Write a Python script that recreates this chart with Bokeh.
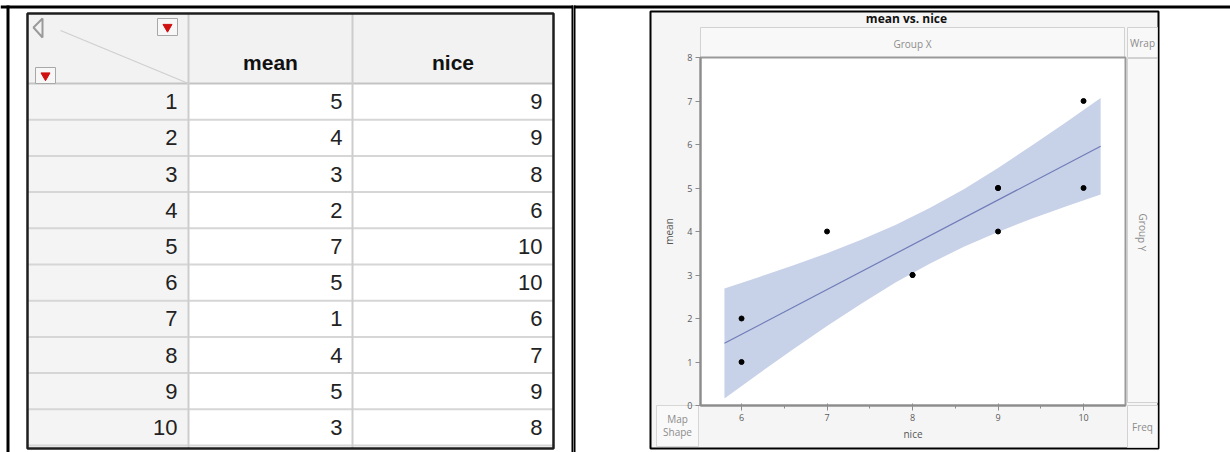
from bokeh.plotting import figure
from bokeh.models import Range1d, LinearAxis, SingleIntervalTicker
from bokeh.layouts import row
from bokeh.core.properties import value
from bokeh.embed import file_html
from bokeh.resources import INLINE

# ---------------- data ----------------
row_ids = [1, 2, 3, 4, 5, 6, 7, 8, 9, 10]
mean = [5, 4, 3, 2, 7, 5, 1, 4, 5, 3]
nice = [9, 9, 8, 6, 10, 10, 6, 7, 9, 8]
col_headers = ["mean", "nice"]

# fit line and confidence band
fit_x = [5.8, 10.2]
fit_y = [1.43, 5.96]
band_x = [5.8, 6.2, 6.6, 7.0, 7.4, 7.8, 8.2, 8.6, 9.0, 9.4, 9.8, 10.2]
band_lo = [0.16, 0.73, 1.29, 1.83, 2.34, 2.83, 3.26, 3.65, 3.99, 4.30, 4.58, 4.85]
band_hi = [2.69, 2.95, 3.22, 3.50, 3.81, 4.15, 4.54, 4.97, 5.46, 5.98, 6.52, 7.07]

chart_title = "mean vs. nice"
x_label = "nice"
y_label = "mean"
drop_zones = ["Group X", "Wrap", "Group Y", "Freq", "Map", "Shape"]

H = 452
TABLE_FONT = value("Liberation Sans")
UI_FONT = value("Open Sans")

# ---------------- left: data table ----------------
W1 = 573
left = figure(width=W1, height=H, x_range=Range1d(0, W1), y_range=Range1d(H, 0),
              output_backend="svg", toolbar_location=None, min_border=0,
              x_axis_location=None, y_axis_location=None, title=None)
for g in left.grid:
    g.visible = False
left.outline_line_color = None
left.border_fill_color = "white"
left.background_fill_color = "white"

TL, TR, TT, TB = 27, 553, 13, 448
HB = 83
C1, C2 = 188, 352
RH = 36.2

left.quad(left=TL, right=TR, top=TT, bottom=TB, fill_color="white", line_color=None)
left.quad(left=TL, right=TR, top=TT, bottom=HB, fill_color="#f2f2f2", line_color=None)
left.quad(left=TL, right=C1, top=HB, bottom=TB, fill_color="#f4f4f4", line_color=None)

n = len(row_ids)
line_ys = [HB + RH * (k + 1) for k in range(n)]
left.segment(x0=[TL] * n, x1=[TR] * n, y0=line_ys, y1=line_ys, line_color="#d6d6d6", line_width=2)
left.segment(x0=[TL], x1=[TR], y0=[HB], y1=[HB], line_color="#c4c4c4", line_width=2)
left.segment(x0=[C1, C2], x1=[C1, C2], y0=[TT, TT], y1=[TB, TB], line_color="#cdcdcd", line_width=2)
# corner diagonal and icons
left.segment(x0=[60], y0=[30], x1=[C1], y1=[HB], line_color="#cfcfcf", line_width=1.2)
left.patch(x=[42, 33, 42, 42], y=[18, 27, 37, 18], fill_color=None, line_color="#9a9a9a", line_width=2)
left.quad(left=[157, 35], right=[177, 55], top=[18, 67], bottom=[35, 83],
          fill_color="#f7f7f7", line_color="#a8a8a8", line_width=1)
left.scatter(x=[167, 45], y=[26.5, 75], marker="inverted_triangle", size=9,
             fill_color="#d01010", line_color="#d01010")
# outer border of table
left.quad(left=TL, right=TR, top=TT, bottom=TB, fill_color=None, line_color="#1e1e1e", line_width=2.5)

# headers and cells
left.text(x=[(C1 + C2) / 2, (C2 + TR) / 2], y=[62, 62], text=col_headers,
          text_font=TABLE_FONT, text_font_size="21px", text_font_style="bold",
          text_align="center", text_baseline="middle", text_color="#111111")
row_cy = [HB + RH * (i + 0.5) for i in range(n)]
left.text(x=[177] * n, y=row_cy, text=[str(v) for v in row_ids], text_font=TABLE_FONT,
          text_font_size="22px", text_align="right", text_baseline="middle", text_color="#222222")
left.text(x=[342] * n, y=row_cy, text=[str(v) for v in mean], text_font=TABLE_FONT,
          text_font_size="22px", text_align="right", text_baseline="middle", text_color="#222222")
left.text(x=[542] * n, y=row_cy, text=[str(v) for v in nice], text_font=TABLE_FONT,
          text_font_size="22px", text_align="right", text_baseline="middle", text_color="#222222")

# document frame lines
left.quad(left=[0, 6, 571], right=[W1, 9, W1], top=[5, 5, 5], bottom=[8, H, H],
          fill_color="black", line_color=None)

# ---------------- right: graph builder ----------------
OX = 573
W2 = 1230 - OX
PX, PY = 85.5, 43.5          # pixels per data unit
AX0, AY0 = 700, 405          # pixel location of the axes corner
XMIN, XMAX, YMIN, YMAX = 5.52, 10.49, 0, 8

def X(px):
    return XMIN + (px - AX0) / PX

def Y(py):
    return YMIN + (AY0 - py) / PY

p = figure(width=W2, height=H, x_range=Range1d(X(OX), X(OX + W2)), y_range=Range1d(Y(H), Y(0)),
           output_backend="svg", toolbar_location=None, title=None, min_border=0,
           x_axis_location=None, y_axis_location=None)
for g in p.grid:
    g.visible = False
p.outline_line_color = None
p.border_fill_color = "white"
p.background_fill_color = "white"

for fig in (left, p):
    if "frame_align" in fig.properties():
        fig.frame_align = False

def qbox(l, r, t, b, fill, line, lw=1):
    p.quad(left=X(l), right=X(r), top=Y(t), bottom=Y(b), fill_color=fill,
           line_color=line, line_width=lw)

# document lines (continuation)
qbox(OX - 2, OX + 2, 5, H, "black", None)
qbox(OX, OX + W2, 5, 8, "black", None)
# JMP panel
qbox(650, 1158, 11, 448, "#f5f5f5", "black", 2)
qbox(700, 1124, 27, 57, "#f8f8f8", "#d2d2d2")
qbox(1127, 1157, 27, 57, "#f8f8f8", "#d2d2d2")
qbox(1127, 1157, 58, 402, "#f8f8f8", "#d2d2d2")
qbox(1127, 1157, 405, 447, "#f8f8f8", "#d2d2d2")
qbox(656, 698, 405, 446, "#f9f9f9", "#d6d6d6")
qbox(700, 1125, 57, 405, "white", "#9a9a9a", 2)

def lab(px, py, text, size="10px", color="#8c8c8c", bold=False, angle=0.0):
    p.text(x=[X(px)], y=[Y(py)], text=[text], text_font=UI_FONT, text_font_size=size,
           text_color=color, text_align="center", text_baseline="middle",
           text_font_style="bold" if bold else "normal", angle=angle)

lab(906, 18, chart_title, size="12px", color="#111111", bold=True)
lab(912, 43, drop_zones[0])
lab(1142, 42, drop_zones[1])
lab(1142, 232, drop_zones[2], angle=-1.5708)
lab(1142, 426, drop_zones[3])
lab(677, 418, drop_zones[4])
lab(677, 431, drop_zones[5])

# band, fit, points
p.varea(x=band_x, y1=band_lo, y2=band_hi, fill_color="#c7d1e8", fill_alpha=1.0)
p.line(fit_x, fit_y, line_color="#6f7cb8", line_width=1.2)
p.scatter(nice, mean, size=5, fill_color="black", line_color="black")

# axes drawn at the plot-area edges
xax = LinearAxis(fixed_location=YMIN, bounds=(XMIN, XMAX), axis_label=x_label,
                 ticker=SingleIntervalTicker(interval=1, num_minor_ticks=2))
yax = LinearAxis(fixed_location=XMIN, bounds=(YMIN, YMAX), axis_label=y_label,
                 ticker=SingleIntervalTicker(interval=1, num_minor_ticks=0))
for ax in (xax, yax):
    ax.axis_line_color = "#8c8c8c"
    ax.axis_line_width = 2
    ax.major_tick_line_color = "#8c8c8c"
    ax.minor_tick_line_color = "#8c8c8c"
    ax.major_tick_in = 0
    ax.major_tick_out = 5
    ax.minor_tick_in = 0
    ax.minor_tick_out = 3
    ax.major_label_text_font = "Open Sans"
    ax.major_label_text_font_size = "9px"
    ax.major_label_text_color = "#5a5a5a"
    ax.axis_label_text_font = "Open Sans"
    ax.axis_label_text_font_size = "10px"
    ax.axis_label_text_font_style = "normal"
    ax.axis_label_text_color = "#555555"
xax.major_tick_in = 2
xax.major_label_standoff = 3
yax.major_label_standoff = 3
xax.axis_label_standoff = 3
yax.axis_label_standoff = 8
p.add_layout(xax, "below")
p.add_layout(yax, "left")

layout = row(left, p)
open("out.html", "w").write(file_html(layout, INLINE))
